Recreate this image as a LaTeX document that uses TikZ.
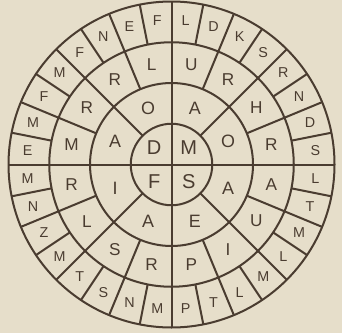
\documentclass[tikz,border=0pt]{standalone}
\usepackage{fontspec}
\setmainfont{Liberation Sans}
\definecolor{paper}{HTML}{E6DECA}
\definecolor{ink}{HTML}{4A3C30}
\tikzset{
  letter/.style={text=ink, inner sep=0pt},
  wheel/.style={draw=ink, line width=1.4pt}
}
% letters of one ring, one per sector, counterclockwise from 0 degrees
\newcommand{\ringletters}[5]{%
  \foreach \l [count=\i from 0] in {#5} {
    \pgfmathsetmacro{\ang}{(\i+0.5)*360/#2}
    \node[letter, font=\fontsize{#4pt}{#4pt}\selectfont] (#1\i) at (\ang:#3) {\l};
  }
}

\begin{document}
\begin{tikzpicture}
  \useasboundingbox[fill=paper] (-4.209,-4.135) rectangle (4.184,4.037);

  % rings
  \foreach \r in {1,2,3,4}
    \draw[wheel] (0,0) circle (\r);

  % spokes
  \draw[wheel] (-4,0) -- (4,0);
  \draw[wheel] (0,-4) -- (0,4);
  \foreach \a in {45,135,225,315}
    \draw[wheel] (\a:1) -- (\a:4);
  \foreach \a in {22.5,67.5,112.5,157.5,202.5,247.5,292.5,337.5}
    \draw[wheel] (\a:2) -- (\a:4);
  \foreach \k in {0,...,15}
    \draw[wheel] ({11.25+22.5*\k}:3) -- ({11.25+22.5*\k}:4);

  % letters, inside out
  \ringletters{c}{4}{0.6}{14}{M,D,F,S}
  \ringletters{b}{8}{1.5}{12.5}{O,A,O,A,I,A,E,A}
  \ringletters{m}{16}{2.5}{12}{R,H,R,U,L,R,R,M,R,L,S,R,P,I,U,A}
  \ringletters{o}{32}{3.55}{10}{S,D,N,R,S,K,D,L,F,E,N,F,M,F,M,E,M,N,Z,M,T,S,N,M,P,T,L,M,L,M,T,L}
\end{tikzpicture}
\end{document}
